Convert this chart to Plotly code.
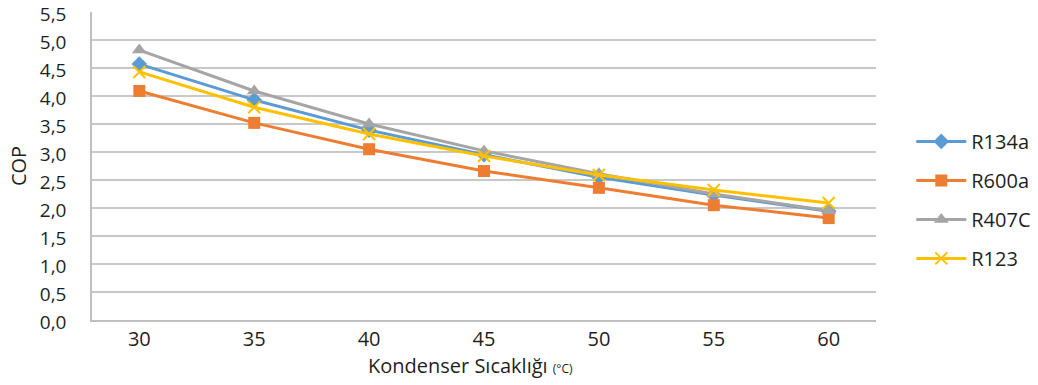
import plotly.graph_objects as go

categories = ["30", "35", "40", "45", "50", "55", "60"]
r134a = [4.57, 3.93, 3.39, 2.95, 2.55, 2.23, 1.94]
r600a = [4.09, 3.52, 3.05, 2.66, 2.36, 2.05, 1.82]
r407c = [4.82, 4.09, 3.50, 3.02, 2.61, 2.25, 1.95]
r123 = [4.43, 3.80, 3.32, 2.93, 2.59, 2.32, 2.09]
y_ticks = [0, 0.5, 1, 1.5, 2, 2.5, 3, 3.5, 4, 4.5, 5, 5.5]
y_tick_labels = ["0,0", "0,5", "1,0", "1,5", "2,0", "2,5", "3,0", "3,5", "4,0", "4,5", "5,0", "5,5"]
x_title = "Kondenser Sıcaklığı <span style='font-size:12px'>(°C)</span>"

FONT = "Open Sans, Liberation Sans, sans-serif"
TXT = "#1f1f1f"
FS = 20

series = [
    ("R134a", r134a, "#5B9BD5", dict(symbol="diamond", size=12)),
    ("R600a", r600a, "#ED7D31", dict(symbol="square", size=12)),
    ("R407C", r407c, "#A5A5A5", dict(symbol="triangle-up", size=13)),
    ("R123", r123, "#FFC000", dict(symbol="x-thin", size=12)),
]

fig = go.Figure()
for name, vals, col, mk in series:
    marker = dict(color=col, **mk)
    if mk["symbol"] == "x-thin":
        marker["line"] = dict(color=col, width=2)
    fig.add_trace(go.Scatter(
        x=categories, y=vals, name=name, mode="lines+markers",
        line=dict(color=col, width=3), marker=marker, legendgroup=name,
    ))

fig.add_annotation(
    text=x_title, xref="paper", yref="paper", x=0.4834, y=-0.149,
    xanchor="center", yanchor="middle", showarrow=False,
    font=dict(size=FS, color=TXT, family=FONT),
)

fig.update_layout(
    width=1038, height=385,
    margin=dict(l=92, r=162, t=12, b=65, autoexpand=False),
    paper_bgcolor="white", plot_bgcolor="white",
    font=dict(family=FONT, size=FS, color=TXT),
    showlegend=True,
    legend=dict(x=1.045, xanchor="left", y=0.39, yanchor="middle",
                font=dict(size=FS, color=TXT), tracegroupgap=10,
                itemwidth=50, bgcolor="rgba(0,0,0,0)"),
    xaxis=dict(
        type="category", showgrid=False, showline=True, linecolor="#BFBFBF",
        linewidth=1.5, ticks="", tickfont=dict(size=FS, color=TXT),
        automargin=False, ticklabeloverflow="allow",
    ),
    yaxis=dict(
        range=[0, 5.5], tickvals=y_ticks, ticktext=y_tick_labels,
        showgrid=True, gridcolor="#C8C8C8", gridwidth=1.5,
        showline=True, linecolor="#BFBFBF", linewidth=1.5, ticks="",
        zeroline=False, tickfont=dict(size=19, color=TXT), ticklabelstandoff=20,
        ticklabelshift=2,
        automargin=False, ticklabeloverflow="allow",
        title=dict(text="COP", font=dict(size=FS, color=TXT), standoff=8),
    ),
)

fig.write_html("out.html")
